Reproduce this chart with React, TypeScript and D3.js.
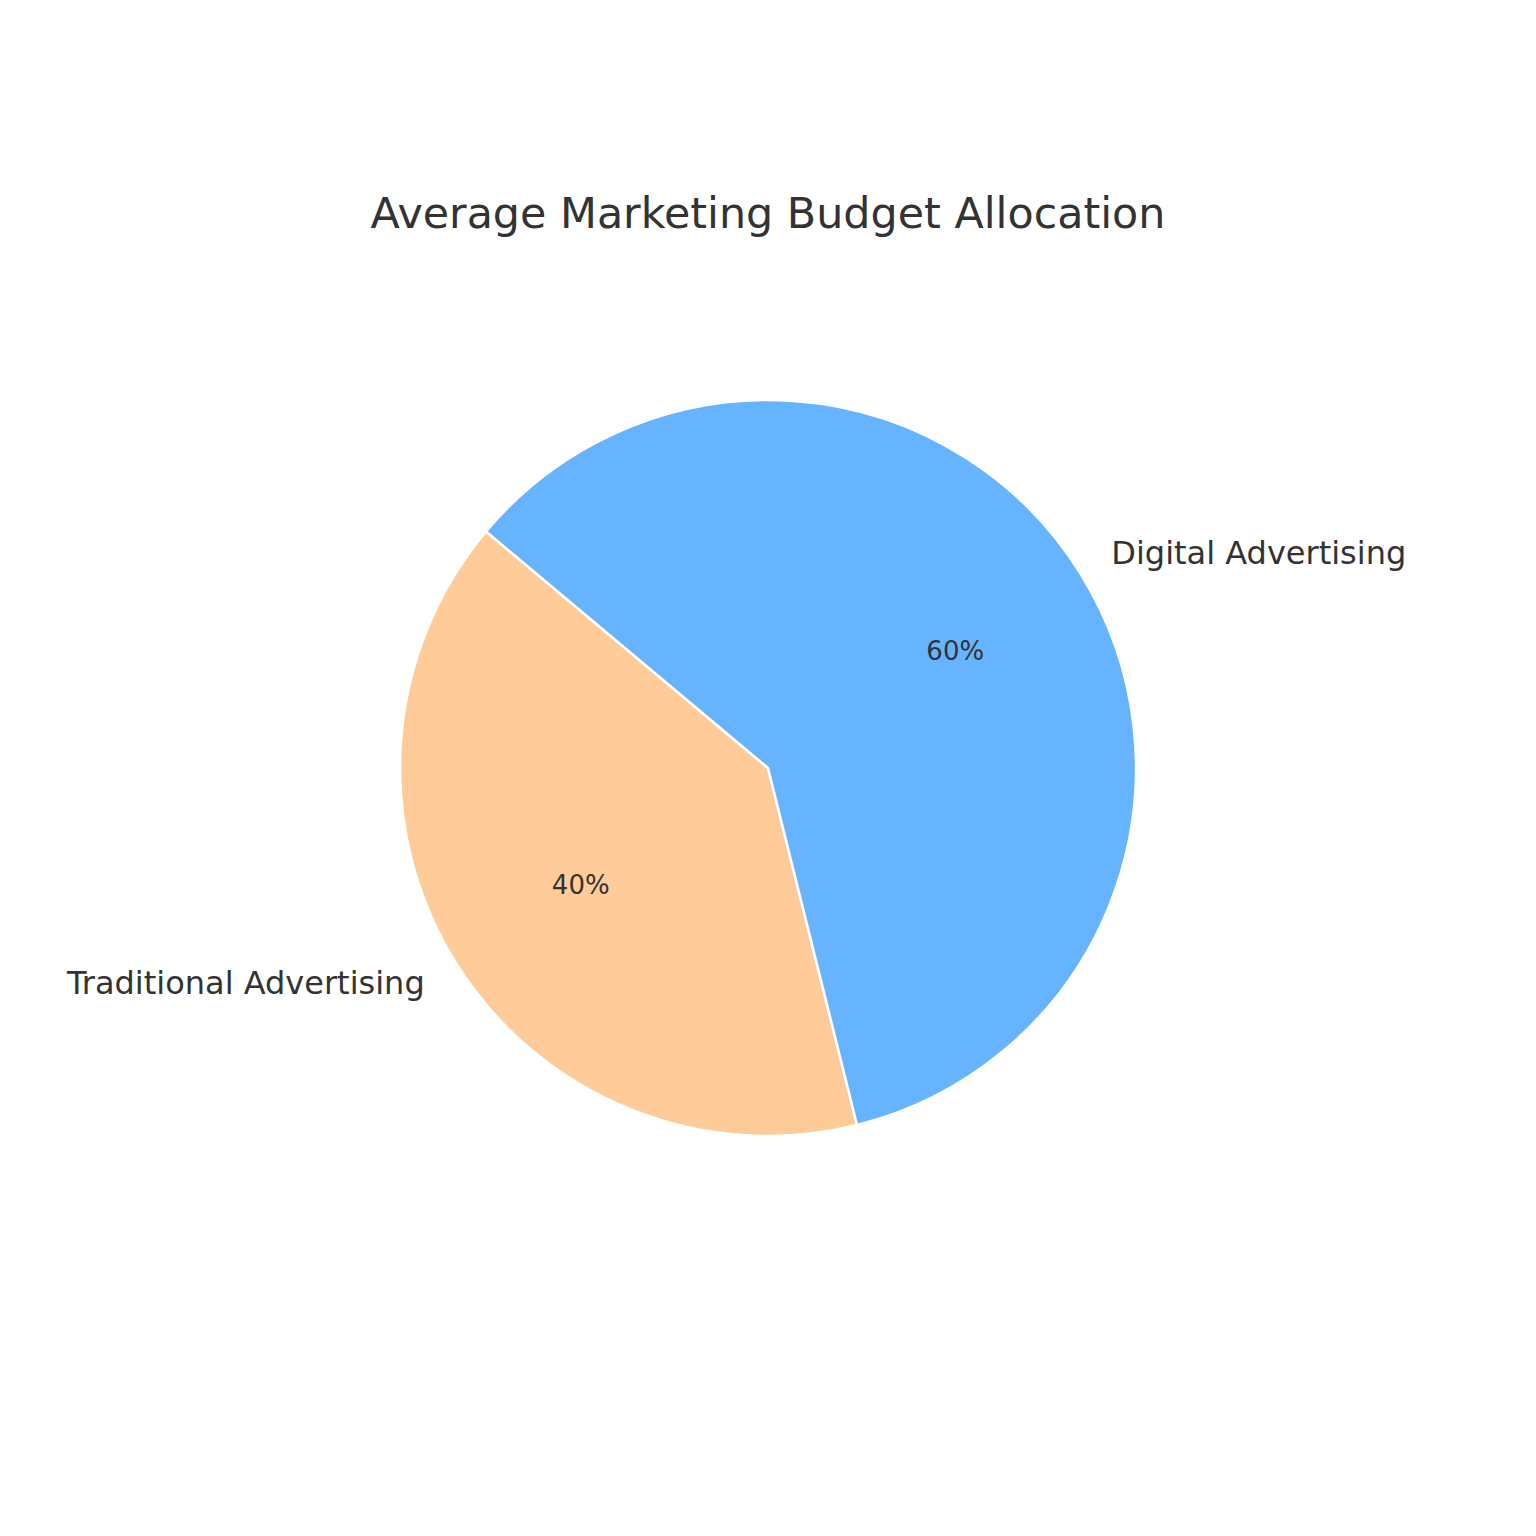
import React from "react";
import * as d3 from "d3";

// data, drawn in matplotlib order (counterclockwise from startangle)
const labels = ["Traditional Advertising", "Digital Advertising"];
const values = [40, 60];
const colors = ["#ffcc99", "#66b3ff"];

const title = "Average Marketing Budget Allocation";

const W = 1536;
const H = 1536;
const cx = 768;
const cy = 768;
const radius = 368;
const startAngleDeg = 140; // matplotlib startangle
const font = "'DejaVu Sans', sans-serif";
const textColor = "#333333";

// matplotlib angle (deg, ccw from +x) -> screen point
const polar = (deg: number, r: number) => {
    const a = (deg * Math.PI) / 180;
    return [cx + r * Math.cos(a), cy - r * Math.sin(a)];
};

const App = () => {
    const total = d3.sum(values);
    const angleScale = d3.scaleLinear([0, total], [0, 360]);

    // d3.arc uses clockwise-from-12-o'clock radians; convert from matplotlib angles
    const toD3 = (deg: number) => ((90 - deg) * Math.PI) / 180;
    const arc = d3.arc<any>().innerRadius(0).outerRadius(radius);

    let acc = 0;
    const slices = values.map((v, i) => {
        const a0 = startAngleDeg + angleScale(acc);
        acc += v;
        const a1 = startAngleDeg + angleScale(acc);
        return { label: labels[i], value: v, color: colors[i], a0, a1, mid: (a0 + a1) / 2 };
    });

    return (
        <svg
            width={W}
            height={H}
            style={{ position: "absolute", top: 0, left: 0, display: "block", background: "#fff" }}
        >
            <text
                x={cx}
                y={228}
                textAnchor="middle"
                fontFamily={font}
                fontSize={42.8}
                fill={textColor}
            >
                {title}
            </text>
            <g transform={`translate(${cx},${cy})`}>
                {slices.map((s, i) => (
                    <path
                        key={i}
                        d={arc({ startAngle: toD3(s.a1), endAngle: toD3(s.a0) }) as string}
                        fill={s.color}
                        stroke="#ffffff"
                        strokeWidth={2.5}
                        strokeLinejoin="round"
                    />
                ))}
            </g>
            {slices.map((s, i) => {
                const [lx, ly] = polar(s.mid, radius * 1.1);
                const [px, py] = polar(s.mid, radius * 0.6);
                const cosv = Math.cos((s.mid * Math.PI) / 180);
                return (
                    <g key={`t${i}`} fontFamily={font} fill={textColor}>
                        <text
                            x={lx}
                            y={ly}
                            textAnchor={cosv >= 0 ? "start" : "end"}
                            dominantBaseline="central"
                            fontSize={32}
                        >
                            {s.label}
                        </text>
                        <text
                            x={px}
                            y={py}
                            textAnchor="middle"
                            dominantBaseline="central"
                            fontSize={26}
                        >
                            {`${Math.round((s.value / total) * 100)}%`}
                        </text>
                    </g>
                );
            })}
        </svg>
    );
};

export default App;
